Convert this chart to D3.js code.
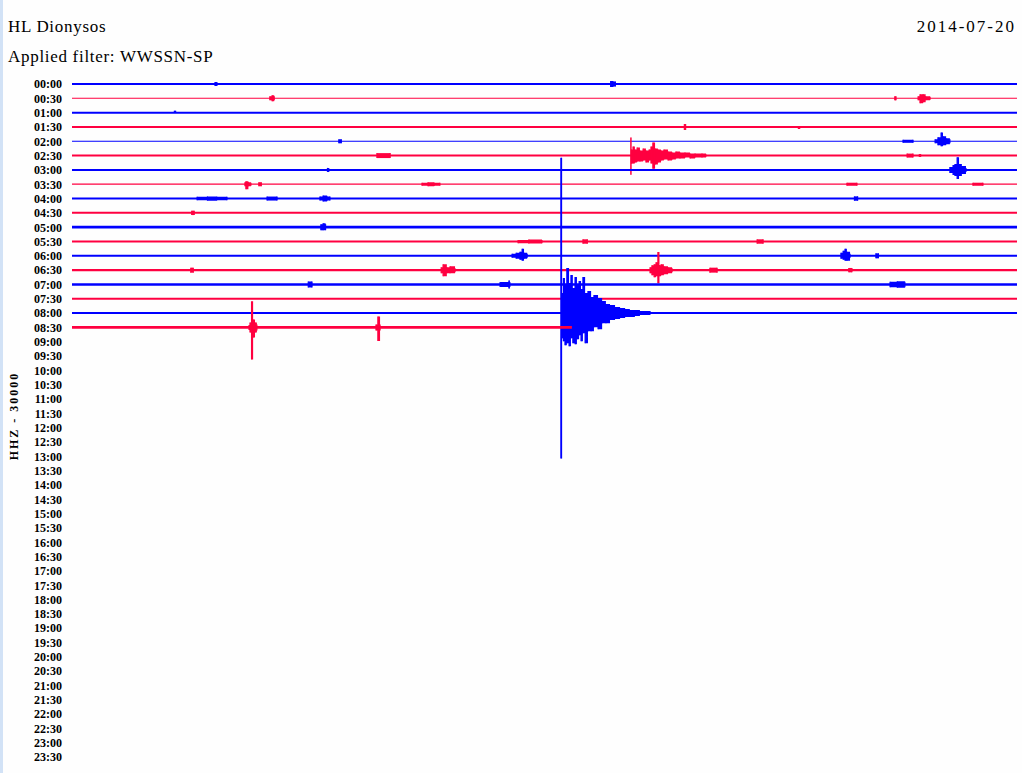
<!doctype html>
<html>
<meta charset="utf-8">
<style>
body { margin: 0; padding: 0; background: #fefefe; }
svg { display: block; }
.title { font-family: 'Liberation Serif', serif; font-size: 17px; fill: #000; }
.hour text { font-family: 'Liberation Serif', serif; font-weight: bold; font-size: 12px; fill: #000; }
.chan { font-family: 'Liberation Serif', serif; font-weight: bold; font-size: 12px; letter-spacing: 2px; }
</style>
<body>
<svg width="1022" height="773"></svg>
<script src="https://d3js.org/d3.v7.min.js"></script>
<script>

// one row per half hour
var rowLabels = d3.range(48).map(function(i) {
  return d3.format("02")(Math.floor(i / 2)) + ":" + (i % 2 ? "30" : "00");
});

// rows that hold data, and their background noise (half amplitude, counts)
var recordedRows = rowLabels.slice(0, 18);
var rowNoise = [2100, 1050, 2100, 2100, 1050, 2100, 2100, 1300, 2100,
                2100, 2800, 2100, 2100, 2500, 2800, 2100, 2100, 2800];

// the record stops part way through the last row (minute within row)
var lastRow = "08:30", lastMinute = 15.87;

// events: row, then samples [minute in row, up, down] in counts
var events = [
  {row: "00:00", pts: [[4.54, 4200, 4200], [4.60, 4200, 4200]]},
  {row: "00:00", pts: [[17.10, 6300, 6300], [17.18, 5200, 5200], [17.25, 5200, 5200]]},
  {row: "00:30", pts: [[6.28, 4200, 4200], [6.35, 6300, 6300], [6.42, 4200, 4200]]},
  {row: "00:30", pts: [[26.12, 4200, 4200], [26.16, 4200, 4200]]},
  {row: "00:30", pts: [[26.86, 4200, 4200], [26.92, 8400, 10500], [27.02, 8400, 8400], [27.10, 4200, 4200], [27.24, 3200, 3200]]},
  {row: "01:00", pts: [[3.25, 4200, 0], [3.29, 4200, 0]]},
  {row: "01:30", pts: [[19.44, 6300, 6300], [19.48, 6300, 6300]]},
  {row: "01:30", pts: [[23.06, 0, 4200], [23.10, 0, 4200]]},
  {row: "02:00", pts: [[8.47, 4200, 4200], [8.55, 4200, 4200]]},
  {row: "02:00", pts: [[26.38, 3200, 3200], [26.70, 3200, 3200]]},
  {row: "02:00", pts: [[27.40, 4200, 4200], [27.49, 8400, 8400], [27.59, 18300, 10500], [27.65, 10500, 8400], [27.75, 6300, 6300], [27.87, 4200, 4200]]},
  {row: "02:30", pts: [[9.68, 5200, 5200], [10.10, 5200, 5200]]},
  {row: "02:30", pts: [[17.74, 37800, 39900], [17.76, 12600, 16800], [17.81, 18900, 16800], [17.87, 12600, 14700],
                       [17.94, 16800, 12600], [18.03, 10500, 12600], [18.13, 14700, 10500], [18.22, 10500, 14700],
                       [18.32, 12600, 10500], [18.38, 18900, 16800], [18.44, 27300, 27300], [18.51, 14700, 18900],
                       [18.60, 12600, 14700], [18.70, 10500, 10500], [18.79, 12600, 8400], [18.92, 8400, 10500],
                       [19.05, 6300, 8400], [19.17, 8400, 6300], [19.30, 6300, 6300], [19.46, 6300, 4200],
                       [19.62, 4200, 6300], [19.78, 4200, 4200], [20.00, 4200, 4200], [20.13, 2100, 2100]]},
  {row: "02:30", pts: [[26.51, 4200, 4200], [26.70, 4200, 4200]]},
  {row: "02:30", pts: [[26.90, 3200, 3200], [26.94, 3200, 3200]]},
  {row: "03:00", pts: [[8.11, 4200, 4200], [8.15, 4200, 4200]]},
  {row: "03:00", pts: [[27.87, 6300, 6300], [27.97, 10500, 10500], [28.03, 12600, 12600], [28.10, 26300, 18900],
                       [28.16, 12600, 12600], [28.25, 8400, 8400], [28.38, 4200, 4200]]},
  {row: "03:30", pts: [[5.49, 4200, 4200], [5.52, 6300, 10500], [5.60, 4200, 4200], [5.68, 3200, 3200]]},
  {row: "03:30", pts: [[5.93, 4200, 4200], [6.01, 4200, 4200]]},
  {row: "03:30", pts: [[11.11, 3200, 3200], [11.30, 4200, 4200], [11.50, 3200, 3200], [11.68, 3200, 3200]]},
  {row: "03:30", pts: [[24.60, 3200, 3200], [24.92, 3200, 3200]]},
  {row: "03:30", pts: [[28.60, 3200, 3200], [28.92, 3200, 3200]]},
  {row: "04:00", pts: [[3.97, 3600, 3600], [4.30, 4400, 4400], [4.60, 3600, 3600], [4.92, 3600, 3600]]},
  {row: "04:00", pts: [[6.19, 4200, 4200], [6.51, 4200, 4200]]},
  {row: "04:00", pts: [[7.87, 4200, 4200], [7.97, 6300, 6300], [8.10, 4200, 4200], [8.19, 4200, 4200]]},
  {row: "04:00", pts: [[24.84, 4600, 4600], [24.94, 4600, 4600]]},
  {row: "04:30", pts: [[3.80, 4600, 4600], [3.88, 4600, 4600]]},
  {row: "05:00", pts: [[7.90, 6300, 6300], [7.97, 8400, 6300], [8.05, 6300, 6300]]},
  {row: "05:30", pts: [[14.16, 3400, 3400], [14.50, 4200, 4200], [14.92, 3400, 3400]]},
  {row: "05:30", pts: [[16.22, 4600, 4600], [16.36, 4600, 4600]]},
  {row: "05:30", pts: [[21.75, 4600, 4600], [21.94, 4600, 4600]]},
  {row: "06:00", pts: [[13.97, 4200, 4200], [14.10, 6300, 6300], [14.22, 8400, 8400], [14.29, 14700, 10500], [14.35, 6300, 6300], [14.45, 4200, 4200]]},
  {row: "06:00", pts: [[24.41, 6300, 6300], [24.48, 10500, 8400], [24.54, 14700, 10500], [24.60, 8400, 10500], [24.70, 4200, 4200]]},
  {row: "06:00", pts: [[25.52, 5200, 5200], [25.60, 5200, 5200]]},
  {row: "06:30", pts: [[3.77, 5200, 5200], [3.85, 5200, 5200]]},
  {row: "06:30", pts: [[11.72, 6300, 6300], [11.78, 12600, 12600], [11.90, 6300, 6300], [12.00, 8400, 6300], [12.16, 4200, 4200]]},
  {row: "06:30", pts: [[18.35, 6300, 6300], [18.41, 10500, 10500], [18.48, 12600, 14700], [18.54, 16800, 12600],
                       [18.60, 37800, 27300], [18.65, 10500, 12600], [18.70, 12600, 10500], [18.79, 8400, 8400],
                       [18.92, 6300, 6300], [19.05, 4200, 4200]]},
  {row: "06:30", pts: [[20.25, 5200, 5200], [20.48, 5200, 5200]]},
  {row: "06:30", pts: [[24.66, 4600, 4600], [24.76, 4600, 4600]]},
  {row: "07:00", pts: [[7.50, 6300, 6300], [7.62, 6300, 6300]]},
  {row: "07:00", pts: [[13.59, 5200, 5200], [13.87, 8400, 8400], [13.90, 5200, 5200]]},
  {row: "07:00", pts: [[25.97, 5800, 5800], [26.20, 6800, 6800], [26.44, 5800, 5800]]},
  {row: "08:00", pts: [[15.52, 325500, 304500], [15.56, 42000, 52500], [15.60, 73500, 58800], [15.65, 58800, 67200],
                       [15.71, 94500, 63000], [15.78, 63000, 69300], [15.84, 79800, 52500], [15.90, 52500, 63000],
                       [15.97, 75600, 65100], [16.03, 58800, 54600], [16.10, 67200, 46200], [16.16, 50400, 58800],
                       [16.22, 75600, 42000], [16.29, 42000, 63000], [16.38, 46200, 37800], [16.48, 33600, 37800],
                       [16.57, 37800, 29400], [16.70, 31500, 33600], [16.83, 25200, 21000], [16.95, 18900, 21000],
                       [17.08, 16800, 14700], [17.24, 12600, 12600], [17.40, 10500, 10500], [17.56, 8400, 8400],
                       [17.71, 6300, 8400], [17.87, 6300, 6300], [18.03, 4200, 4200], [18.35, 4200, 3200]]},
  {row: "08:30", pts: [[5.62, 5200, 5200], [5.65, 10500, 10500], [5.70, 54600, 67200], [5.75, 16800, 21000], [5.81, 10500, 10500], [5.87, 6300, 6300]]},
  {row: "08:30", pts: [[9.65, 6300, 6300], [9.71, 23100, 28700], [9.78, 6300, 6300]]}
];

var colors = ["#0000ff", "#ff0040"];

var svg = d3.select("svg");

// light border down the left edge
svg.append("rect").attr("x", 0).attr("y", 0).attr("width", 3).attr("height", 773)
    .attr("fill", "#d2e2f6");

var x = d3.scaleLinear().domain([0, 30]).range([72, 1017]);
var y = d3.scalePoint().domain(rowLabels).range([84, 757]);
var amp = d3.scaleLinear().domain([0, 30000]).range([0, y.step()]);

svg.append("text").attr("class", "title").attr("x", 8).attr("y", 32)
    .style("letter-spacing", "0.7px").text("HL Dionysos");
svg.append("text").attr("class", "title").attr("x", 8).attr("y", 62)
    .style("letter-spacing", "0.7px").text("Applied filter: WWSSN-SP");
svg.append("text").attr("class", "title").attr("x", 1016).attr("y", 32)
    .attr("text-anchor", "end").style("letter-spacing", "2px").text("2014-07-20");

svg.append("text").attr("class", "chan")
    .attr("transform", "translate(14,416) rotate(-90)")
    .attr("text-anchor", "middle").attr("dy", "0.35em")
    .text("HHZ - 30000");

var axis = d3.axisLeft(y).tickSize(0).tickPadding(0);
svg.append("g").attr("class", "hour")
    .attr("transform", "translate(62,0)")
    .call(axis)
    .call(function(g) { g.select(".domain").remove(); });

var area = d3.area()
    .curve(d3.curveStepAfter)
    .x(function(d) { return x(d[0]); });

recordedRows.forEach(function(r, i) {
  var c = colors[i % 2];
  var base = y(r);
  var end = r === lastRow ? lastMinute : 30;
  var g = svg.append("g");

  g.append("line")
      .attr("x1", x(0)).attr("x2", x(end))
      .attr("y1", base).attr("y2", base)
      .attr("stroke", c)
      .attr("stroke-width", 2 * amp(rowNoise[i]));

  var evs = events.filter(function(e) { return e.row === r; });
  evs.forEach(function(e) {
    area.y0(function(d) { return base + amp(d[2]); })
        .y1(function(d) { return base - amp(d[1]); });
    g.append("path").attr("d", area(e.pts)).attr("fill", c);
    g.selectAll(null).data(e.pts).enter().append("line")
        .attr("x1", function(d) { return x(d[0]); })
        .attr("x2", function(d) { return x(d[0]); })
        .attr("y1", function(d) { return base - amp(d[1]); })
        .attr("y2", function(d) { return base + amp(d[2]); })
        .attr("stroke", c).attr("stroke-width", 1.2);
  });
});

</script>
</body>
</html>
